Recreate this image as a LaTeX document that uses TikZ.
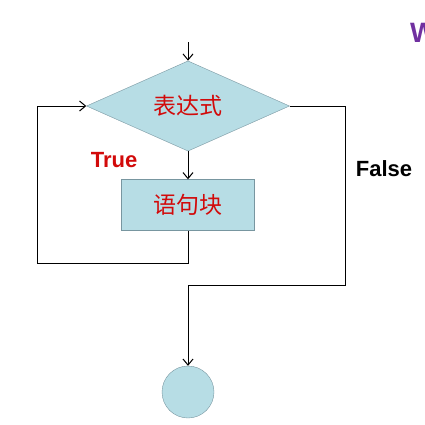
\documentclass[tikz,border=0pt]{standalone}
\usepackage{fontspec}
\setsansfont{Liberation Sans}
\newfontfamily\cjk{Noto Sans CJK SC}
\usetikzlibrary{arrows.meta,shapes.geometric}
\definecolor{boxblue}{RGB}{183,221,229}
\definecolor{boxedge}{RGB}{120,150,160}
\definecolor{txtred}{RGB}{210,10,10}
\definecolor{titlepurple}{RGB}{112,48,160}
\tikzset{
  cond/.style={diamond,draw=boxedge,fill=boxblue,inner sep=0pt,minimum width=203pt,minimum height=88pt,
    font=\cjk\fontsize{23}{27}\selectfont,text=txtred},      % decision
  blkbox/.style={rectangle,draw=boxedge,fill=boxblue,minimum width=133pt,minimum height=51pt,
    font=\cjk\fontsize{23}{27}\selectfont,text=txtred},      % statement block
  endnode/.style={circle,draw=boxedge,fill=boxblue,minimum size=52pt,inner sep=0pt},
  flow/.style={-{Straight Barb[length=6pt,width=10pt]},line width=1pt,black},
  lbl/.style={font=\sffamily\bfseries\fontsize{22}{26}\selectfont},
}
\begin{document}
\begin{tikzpicture}[x=1pt,y=-1pt]
  \useasboundingbox (0,0) rectangle (425,424);
  \node[cond] (expr) at (188,106) {表达式};
  \node[blkbox] (blk) at (188,205) {语句块};
  \node[endnode] (stop) at (188,392) {};
  \coordinate (in) at (188,42);
  \coordinate (lp) at (37,263);
  \coordinate (fr) at (345,285);
  \draw[flow] (in) -- (expr.north);
  \draw[flow] (expr.south) -- (blk.north);
  \draw[flow] (blk.south) |- (lp) |- (expr.west);
  \draw[flow] (expr.east) -| (fr) -| (stop.north);
  \node[lbl,text=txtred] (tru) at (114,160) {True};
  \node[lbl] (fls) at (384,169) {False};
  \node[font=\sffamily\bfseries\fontsize{28}{32}\selectfont,text=titlepurple,anchor=west,inner sep=0pt] (ttl) at (410,33) {W};
\end{tikzpicture}
\end{document}
